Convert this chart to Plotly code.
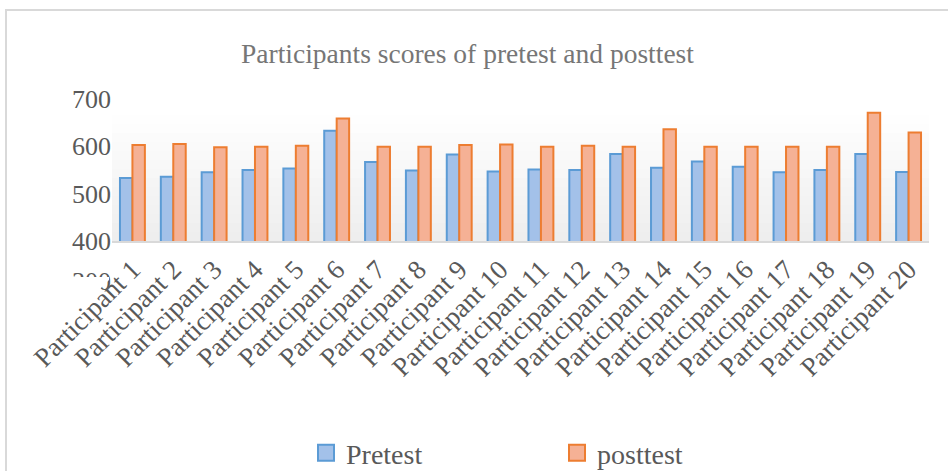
import plotly.graph_objects as go

# ---------------- data ----------------
participants = [f"Participant {i}" for i in range(1, 21)]
pretest = [533, 536, 545, 550, 553, 633, 567, 549, 583, 547,
           551, 550, 584, 555, 568, 557, 545, 550, 584, 546]
posttest = [603, 605, 598, 599, 601, 659, 599, 599, 603, 604,
            599, 601, 599, 636, 599, 599, 599, 599, 671, 629]
y_ticks = [400, 500, 600, 700]
hidden_tick = [300]
title_text = "Participants scores of pretest and posttest"
series_names = ["Pretest", "posttest"]

# ---------------- geometry (pixels) ----------------
W, H = 948, 471
PL, PR = 112, 929          # plot area left/right
PT, PB = 99, 300           # overall plot area top/bottom
MAIN_BOTTOM = 241          # y-axis 400 baseline
PW, PH = PR - PL, PB - PT

def px(x):
    return (x - PL) / PW

def py(y):
    return (PB - y) / PH

FONT = "Liberation Serif"
blue_fill, blue_line = "#a3c1e9", "#5b9bd5"
orange_fill, orange_line = "#f5b195", "#ed7d31"

fig = go.Figure()
fig.add_trace(go.Bar(x=participants, y=pretest, name=series_names[0],
                     marker=dict(color=blue_fill, line=dict(color=blue_line, width=2)),
                     showlegend=False))
fig.add_trace(go.Bar(x=participants, y=posttest, name=series_names[1],
                     marker=dict(color=orange_fill, line=dict(color=orange_line, width=2)),
                     showlegend=False))
# legend proxies (no data; placed on the small secondary y axis so it is drawn)
fig.add_trace(go.Scatter(x=[None], y=[None], mode="markers", name=series_names[0], yaxis="y2",
                         marker=dict(symbol="square", size=16, color=blue_fill,
                                     line=dict(color=blue_line, width=2))))
fig.add_trace(go.Scatter(x=[None], y=[None], mode="markers", name=series_names[1], yaxis="y2",
                         marker=dict(symbol="square", size=16, color=orange_fill,
                                     line=dict(color=orange_line, width=2))))

shapes = []
# gradient plot background
n = 14
top, bot = 115, MAIN_BOTTOM
for i in range(n):
    y0 = top + (bot - top) * i / n
    y1 = top + (bot - top) * (i + 1) / n
    g = int(255 - 17 * (i + 0.5) / n)
    shapes.append(dict(type="rect", xref="paper", yref="paper", layer="below",
                       x0=px(PL), x1=px(PR), y0=py(y1), y1=py(y0),
                       fillcolor=f"rgb({g},{g},{g})", line=dict(width=0)))
# chart border (top and left)
shapes.append(dict(type="line", xref="paper", yref="paper", x0=px(6), x1=px(W + 5),
                   y0=py(10), y1=py(10), line=dict(color="#d9d9d9", width=2)))
shapes.append(dict(type="line", xref="paper", yref="paper", x0=px(6), x1=px(6),
                   y0=py(9), y1=py(H + 5), line=dict(color="#d9d9d9", width=2)))
# white mask clipping the lower part of the "300" label
pts = [(55, 277), (109, 277), (109, 280), (92, 297), (55, 297)]
path = "M " + " L ".join(f"{px(a)},{py(b)}" for a, b in pts) + " Z"
shapes.append(dict(type="path", xref="paper", yref="paper", layer="above", path=path,
                   fillcolor="white", line=dict(width=0)))

fig.update_layout(
    width=W, height=H, autosize=False,
    margin=dict(l=PL, r=W - PR, t=PT, b=H - PB, pad=0, autoexpand=False),
    paper_bgcolor="white", plot_bgcolor="rgba(0,0,0,0)",
    barmode="group", bargap=0.39, bargroupgap=0,
    font=dict(family=FONT, color="#595959"),
    title=dict(text=title_text, x=467.5 / W, xanchor="center", xref="container",
               y=1 - 53 / H, yanchor="middle", yref="container",
               font=dict(family=FONT, size=27.5, color="#767676")),
    xaxis=dict(anchor="y", showgrid=False, zeroline=False, showline=True, automargin=False,
               linecolor="#d9d9d9", linewidth=2, ticks="", tickangle=-45,
               tickfont=dict(family=FONT, size=27, color="#595959")),
    yaxis=dict(domain=[py(MAIN_BOTTOM), 1], range=[400, 700], tickvals=y_ticks,
               showgrid=False, zeroline=False, showline=False, ticks="", automargin=False,
               tickfont=dict(family=FONT, size=26, color="#595959")),
    yaxis2=dict(domain=[0, py(262)], anchor="x", range=[280, 320], tickvals=hidden_tick,
                showgrid=False, zeroline=False, showline=False, ticks="", automargin=False,
                tickfont=dict(family=FONT, size=26, color="#595959")),
    legend=dict(orientation="h", xref="container", yref="container",
                x=306 / W, xanchor="left", y=1 - 453 / H, yanchor="middle",
                entrywidth=206, entrywidthmode="pixels",
                font=dict(family=FONT, size=28, color="#595959"),
                bgcolor="rgba(0,0,0,0)"),
    shapes=shapes,
)

fig.write_html("out.html", config={"displayModeBar": False},
               post_script="document.body.style.margin='0';document.body.style.padding='0';")
